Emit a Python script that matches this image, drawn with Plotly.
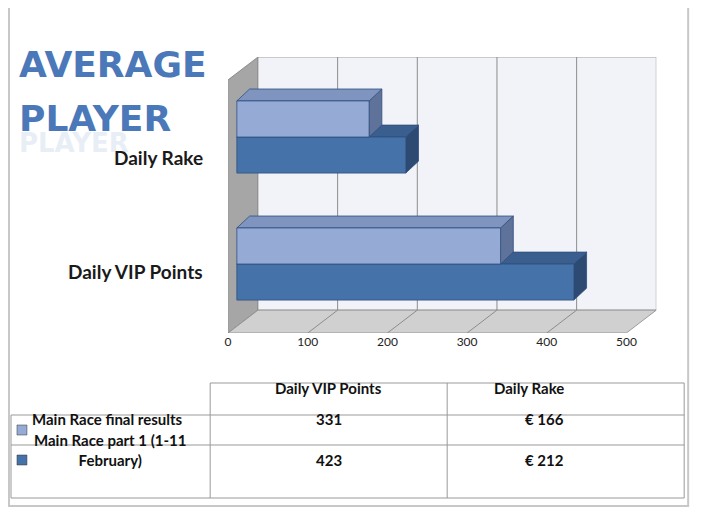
import plotly.graph_objects as go

categories = ["Daily VIP Points", "Daily Rake"]
series_names = ["Main Race final results", "Main Race part 1 (1-11<br>February)"]
final_results = [331, 166]
part1 = [423, 212]
table_cells = [["331", "€ 166"], ["423", "€ 212"]]
tick_vals = [0, 100, 200, 300, 400, 500]

W, H = 719, 530
OX, OY = 10, 8  # page offset compensation
def PX(x): return (x - OX) / W
def PY(y): return 1 - (y - OY) / H

LIGHT, DARK = "#95ABD6", "#4672AA"
LIGHT_TOP, DARK_TOP = "#7F95C0", "#3A5E8E"
LIGHT_SIDE, DARK_SIDE = "#5F739A", "#2D4A72"
FONT = "Lato"

fig = go.Figure()
BASE = 11.0
DX, DY = 16.0, 0.094
HALF = 0.142
WALLX, WALLY = 37.5, 0.18
YB, YT = -0.543, 1.45

def poly(xs, ys, color, line="#2F4F7F"):
    fig.add_trace(go.Scatter(x=xs + [xs[0]], y=ys + [ys[0]], fill="toself", fillcolor=color,
                             mode="lines", line=dict(color=line, width=0.8),
                             hoverinfo="skip", showlegend=False))

poly([0, WALLX, WALLX, 0], [YB, YB + WALLY, YT + WALLY, YT], "#A6A6A6", "#7F7F7F")
poly([WALLX, 537.5, 537.5, WALLX], [YB + WALLY, YB + WALLY, YT + WALLY, YT + WALLY], "#F2F3F8", "#8C8C8C")
poly([0, 500, 537.5, WALLX], [YB, YB, YB + WALLY, YB + WALLY], "#D0D0D0", "#8C8C8C")
for t in tick_vals[1:-1]:
    fig.add_trace(go.Scatter(x=[t + WALLX, t + WALLX, t], y=[YT + WALLY, YB + WALLY, YB], mode="lines",
                             line=dict(color="#8C8C8C", width=1), hoverinfo="skip", showlegend=False))

for i, cat in enumerate(categories):
    yc = float(i)
    for vals, off, front, top, side in [(part1, -HALF, DARK, DARK_TOP, DARK_SIDE),
                                        (final_results, HALF, LIGHT, LIGHT_TOP, LIGHT_SIDE)]:
        v = vals[i]
        y0, y1 = yc + off - HALF, yc + off + HALF
        x0, x1 = BASE, BASE + v
        poly([x1, x1 + DX, x1 + DX, x1], [y1, y1 + DY, y0 + DY, y0], side)
        poly([x0, x1, x1 + DX, x0 + DX], [y1, y1, y1 + DY, y1 + DY], top)
        poly([x0, x1, x1, x0], [y0, y0, y1, y1], front)

for i, cat in enumerate(categories):
    fig.add_annotation(x=PX(205), y=PY(271 - 127 * i), xref="paper", yref="paper",
                       text="<b>" + cat + "</b>", showarrow=False, xanchor="right",
                       font=dict(family=FONT, size=19, color="#1a1a1a"))

shapes = []
def hline(x0, x1, y):
    shapes.append(dict(type="line", xref="paper", yref="paper", x0=PX(x0), x1=PX(x1),
                       y0=PY(y), y1=PY(y), line=dict(color="#999999", width=1)))
def vline(x, y0, y1):
    shapes.append(dict(type="line", xref="paper", yref="paper", x0=PX(x), x1=PX(x),
                       y0=PY(y0), y1=PY(y1), line=dict(color="#999999", width=1)))
shapes.append(dict(type="rect", xref="paper", yref="paper", x0=PX(8), x1=PX(690), y0=PY(506), y1=PY(6),
                   line=dict(color="#C8C8C8", width=2), layer="below"))
hline(210, 686, 383); hline(10, 686, 415); hline(10, 686, 445); hline(10, 686, 498)
vline(210, 383, 498); vline(448, 383, 498); vline(686, 383, 498); vline(10, 415, 498)
for cy, c in [(430, LIGHT), (460, DARK)]:
    shapes.append(dict(type="rect", xref="paper", yref="paper", x0=PX(16), x1=PX(26),
                       y0=PY(cy + 5), y1=PY(cy - 5), fillcolor=c, line=dict(color="#333", width=0.5)))
fig.update_layout(shapes=shapes)

f = dict(family=FONT, size=15, color="#111")
for j, cat in enumerate(categories):
    cx = (210 + 448) / 2 if j == 0 else (448 + 686) / 2
    fig.add_annotation(x=PX(cx), y=PY(399), xref="paper", yref="paper", text="<b>" + cat + "</b>",
                       showarrow=False, font=f)
fig.add_annotation(x=PX(29), y=PY(430), xref="paper", yref="paper", text="<b>" + series_names[0] + "</b>",
                   showarrow=False, xanchor="left", font=f)
fig.add_annotation(x=PX(110), y=PY(471), xref="paper", yref="paper", text="<b>" + series_names[1] + "</b>",
                   showarrow=False, xanchor="center", align="center", font=f)
for r, row in enumerate(table_cells):
    cy = 430 if r == 0 else 471
    for j, val in enumerate(row):
        cx = (210 + 448) / 2 if j == 0 else (448 + 686) / 2
        fig.add_annotation(x=PX(cx), y=PY(cy), xref="paper", yref="paper", text="<b>" + val + "</b>",
                           showarrow=False, font=f)

for txt, y in [("AVERAGE", 42), ("PLAYER", 96)]:
    fig.add_annotation(x=PX(16), y=PY(y), xref="paper", yref="paper", text="<b>" + txt + "</b>",
                       showarrow=False, xanchor="left",
                       font=dict(family="DejaVu Sans", size=36, color="#4A78B8"))
fig.add_annotation(x=PX(16), y=PY(126), xref="paper", yref="paper", text="<b>PLAYER</b>",
                   showarrow=False, xanchor="left", opacity=0.12,
                   font=dict(family="DejaVu Sans", size=26, color="#4A78B8"))

fig.update_layout(
    width=W, height=H, margin=dict(l=0, r=0, t=0, b=0), paper_bgcolor="white", plot_bgcolor="rgba(0,0,0,0)",
    xaxis=dict(domain=[PX(228), PX(658)], range=[0, 537.5], tickvals=tick_vals, showgrid=False, zeroline=False,
               showline=False, ticks="", tickfont=dict(family=FONT, size=12, color="#222")),
    yaxis=dict(domain=[PY(333), PY(57)], range=[YB, YT + WALLY], visible=False),
    showlegend=False,
)
fig.write_html("out.html")
